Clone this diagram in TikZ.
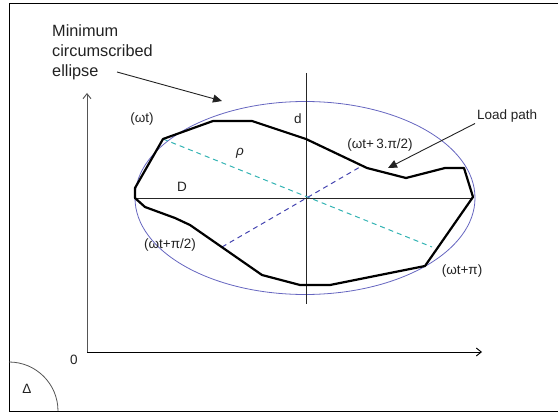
\documentclass[tikz,border=0pt]{standalone}
\usepackage{fontspec}
\setmainfont{Liberation Sans}
\usetikzlibrary{shapes.geometric,arrows.meta}
\definecolor{ellcol}{HTML}{6666C0}
\definecolor{cyandash}{HTML}{33B3B3}
\definecolor{bluedash}{HTML}{4444B0}
\definecolor{axiscol}{HTML}{555555}
\definecolor{txtcol}{HTML}{222222}
\begin{document}
\begin{tikzpicture}[x=1pt,y=-1pt,
  lbl/.style={inner sep=0pt,text=txtcol,font=\fontsize{13.5}{16}\selectfont},
  bigl/.style={inner sep=0pt,text=txtcol,align=left,font=\fontsize{16.3}{20}\selectfont},
  loadline/.style={line width=2.2pt,line join=round},
  dashline/.style={line width=1pt,dash pattern=on 5pt off 4pt},
  pointer/.style={line width=0.9pt,-{Triangle[length=9pt,width=8pt]}},
  axisarrow/.style={line width=0.9pt,-{Straight Barb[length=5pt,width=8pt]}}]
\useasboundingbox (0,0) rectangle (558,412);
% frame
\draw[line width=1pt] (560,4) -- (9,4) -- (9,411) -- (560,411);
% quarter circle
\draw[axiscol,line width=0.8pt] (9,362) arc[start angle=270,end angle=360,radius=49];
\node[lbl] (delta) at (27,389) {Δ};
% axes
\coordinate (O) at (87,352);
\coordinate (ytip) at (87,93);
\coordinate (xtip) at (482,352);
\draw[axisarrow,axiscol] (O) -- (ytip);
\draw[axisarrow,black] (O) -- (xtip);
\node[lbl] (zero) at (74,360) {0};
% ellipse
\node[ellipse,draw=ellcol,line width=0.8pt,minimum width=340pt,minimum height=193pt,inner sep=0pt] (ell) at (305,198) {};
% center lines
\coordinate (C) at (306,198);
\coordinate (vtop) at (306,73);
\coordinate (vbot) at (306,304);
\coordinate (hl) at (135,198);
\coordinate (hr) at (473,198);
\draw[line width=0.8pt,black!85] (vtop) -- (vbot);
\draw[line width=0.8pt,black!85] (hl) -- (hr);
% polygon vertices
\coordinate (p1) at (135,198);
\coordinate (p2) at (135,188);
\coordinate (p3) at (163,139);
\coordinate (p4) at (213,121);
\coordinate (p5) at (252,121);
\coordinate (p6) at (306,139);
\coordinate (p7) at (367,168);
\coordinate (p8) at (406,178);
\coordinate (p9) at (445,168);
\coordinate (p10) at (464,168);
\coordinate (p11) at (473,197);
\coordinate (p12) at (425,266);
\coordinate (p13) at (330,285);
\coordinate (p14) at (300,285);
\coordinate (p15) at (262,275);
\coordinate (p16) at (190,225);
\coordinate (p17) at (175,218);
\coordinate (p18) at (145,207);
% dashed diameters
\coordinate (cy2) at (432,247);
\coordinate (bl1) at (222,247);
\coordinate (bl2) at (360,167);
\draw[dashline,cyandash] (p3) -- (cy2);
\draw[dashline,bluedash] (bl1) -- (bl2);
% load path
\draw[loadline] (p1) -- (p2) -- (p3) -- (p4) -- (p5) -- (p6) -- (p7) -- (p8) -- (p9) -- (p10) -- (p11) -- (p12) -- (p13) -- (p14) -- (p15) -- (p16) -- (p17) -- (p18) -- cycle;
% labels
\node[bigl,anchor=west] (mce) at (52,52) {Minimum\\circumscribed\\ellipse};
\coordinate (mcetip) at (222,101);
\draw[pointer,txtcol] (117,72) -- (mcetip);
\node[lbl] (wt) at (142,119) {(ωt)};
\node[lbl] (rho) at (240,153) {\textit{ρ}};
\node[lbl] (D) at (182,187) {D};
\node[lbl] (d) at (298,119) {d};
\node[lbl] (w3) at (380,145) {(ωt+\,3.π/2)};
\node[lbl,anchor=west] (load) at (477,116) {Load path};
\coordinate (loadtip) at (388,168);
\draw[pointer,txtcol] (load.south west) ++(-2pt,-1pt) coordinate (loadstart) -- (loadtip);
\node[lbl] (w2) at (170,245) {(ωt+π/2)};
\node[lbl] (wpi) at (462,271) {(ωt+π)};
\end{tikzpicture}
\end{document}
